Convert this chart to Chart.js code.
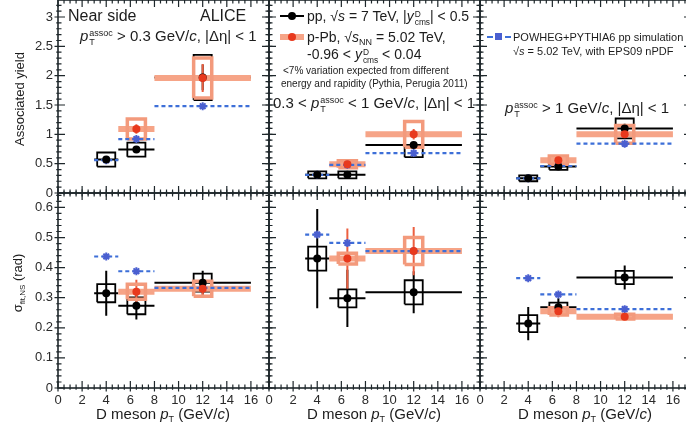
<!DOCTYPE html>
<html>
<head>
<meta charset="utf-8">
<script src="https://cdn.jsdelivr.net/npm/chart.js@4/dist/chart.umd.min.js"></script>
<style>
html, body { margin: 0; padding: 0; background: #fff; overflow: hidden; }
#wrap { position: relative; width: 686px; height: 432px; overflow: hidden; font-family: "Liberation Sans", Arial, sans-serif; color: #1c1c1c; }
#wrap canvas { position: absolute; left: 0; top: 0; }
.t { position: absolute; white-space: nowrap; line-height: 1; }
.ss { display: inline-block; vertical-align: -4px; line-height: 0.95; font-size: 0.6em; margin-left: 1px; }
.ss > span { display: block; }
.rot { position: absolute; white-space: nowrap; line-height: 1; transform: translate(-50%, -50%) rotate(-90deg); }
.ctr { position: absolute; white-space: nowrap; line-height: 1; transform: translateX(-50%); }
.sym { position: absolute; }
</style>
</head>
<body>
<div id="wrap">
  <canvas id="c0" width="700" height="432"></canvas>
  <canvas id="c1" width="700" height="432"></canvas>
  <canvas id="c2" width="700" height="432"></canvas>
  <canvas id="c3" width="700" height="432"></canvas>
  <canvas id="c4" width="700" height="432"></canvas>
  <canvas id="c5" width="700" height="432"></canvas>

  <!-- panel 1 texts -->
  <div class="t" style="left:68px;top:8px;font-size:16px">Near side</div>
  <div class="t" style="left:200px;top:8px;font-size:16px">ALICE</div>
  <div class="t" style="left:80px;top:28px;font-size:15px"><i>p</i><span class="ss"><span>assoc</span><span>T</span></span> &gt; 0.3 GeV/<i>c</i>, |Δη| &lt; 1</div>

  <!-- legend pp / p-Pb -->
  <div class="sym" style="left:280px;top:15px;width:24px;height:2px;background:#000"></div>
  <div class="sym" style="left:288px;top:12px;width:8px;height:8px;border-radius:50%;background:#000"></div>
  <div class="t" style="left:307px;top:9px;font-size:14px">pp, √<i>s</i> = 7 TeV, |<i>y</i><span class="ss"><span>D</span><span>cms</span></span>| &lt; 0.5</div>
  <div class="sym" style="left:280px;top:34px;width:24px;height:6px;background:#f6a487"></div>
  <div class="sym" style="left:288px;top:33px;width:8px;height:8px;border-radius:50%;background:#e8391d"></div>
  <div class="t" style="left:307px;top:30px;font-size:14px">p-Pb, √<i>s</i><sub style="font-size:9px;vertical-align:-3px">NN</sub> = 5.02 TeV,</div>
  <div class="t" style="left:307px;top:47px;font-size:14px">-0.96 &lt; <i>y</i><span class="ss"><span>D</span><span>cms</span></span> &lt; 0.04</div>
  <div class="t" style="left:283px;top:66px;font-size:10px">&lt;7% variation expected from different</div>
  <div class="t" style="left:281px;top:79px;font-size:10px">energy and rapidity (Pythia, Perugia 2011)</div>
  <div class="t" style="left:273px;top:95px;font-size:15px">0.3 &lt; <i>p</i><span class="ss"><span>assoc</span><span>T</span></span> &lt; 1 GeV/<i>c</i>, |Δη| &lt; 1</div>

  <!-- legend POWHEG -->
  <div class="sym" style="left:487px;top:36px;width:24px;height:0;border-top:2px dashed #3d6fd8"></div>
  <div class="sym" style="left:495px;top:33px;width:7px;height:7px;background:#4a5fd0"></div>
  <div class="t" style="left:513px;top:32px;font-size:11px">POWHEG+PYTHIA6 pp simulation</div>
  <div class="t" style="left:513px;top:46px;font-size:11px">√<i>s</i> = 5.02 TeV, with EPS09 nPDF</div>
  <div class="t" style="left:505px;top:100px;font-size:15px"><i>p</i><span class="ss"><span>assoc</span><span>T</span></span> &gt; 1 GeV/<i>c</i>, |Δη| &lt; 1</div>

  <!-- axis titles -->
  <div class="rot" style="left:19px;top:99px;font-size:13px">Associated yield</div>
  <div class="rot" style="left:19px;top:283px;font-size:13px">σ<sub style="font-size:8px;vertical-align:-3px">fit,NS</sub> (rad)</div>
  <div class="ctr" style="left:163px;top:406px;font-size:15px">D meson <i>p</i><sub style="font-size:9px;vertical-align:-3px">T</sub> (GeV/<i>c</i>)</div>
  <div class="ctr" style="left:374px;top:406px;font-size:15px">D meson <i>p</i><sub style="font-size:9px;vertical-align:-3px">T</sub> (GeV/<i>c</i>)</div>
  <div class="ctr" style="left:585px;top:406px;font-size:15px">D meson <i>p</i><sub style="font-size:9px;vertical-align:-3px">T</sub> (GeV/<i>c</i>)</div>
</div>

<script>
// D meson pT bins
const binLo = [3, 5, 8];
const binHi = [5, 8, 16];
const binMid = [4, 6.5, 12];

// associated yield, one row per pT assoc range: >0.3, 0.3-1, >1 GeV/c
const ppYield      = [[0.57, 0.74, 1.97], [0.31, 0.31, 0.82], [0.25, 0.45, 1.10]];
const ppYieldStat  = [[0.03, 0.04, 0.22], [0.02, 0.02, 0.05], [0.01, 0.02, 0.08]];
const ppYieldSyst  = [[0.12, 0.12, 0.385], [0.06, 0.06, 0.21], [0.05, 0.055, 0.17]];
const pPbYield     = [[null, 1.09, 1.96], [null, 0.49, 1.00], [null, 0.56, 1.00]];
const pPbYieldStat = [[null, 0.08, 0.24], [null, 0.03, 0.09], [null, 0.04, 0.06]];
const pPbYieldSyst = [[null, 0.17, 0.34], [null, 0.06, 0.22], [null, 0.07, 0.15]];
const powhegYield  = [[0.56, 0.92, 1.48], [0.31, 0.48, 0.68], [0.25, 0.46, 0.84]];

// near-side width sigma (rad)
const ppSigma      = [[0.315, 0.273, 0.35], [0.43, 0.298, 0.318], [0.214, 0.268, 0.367]];
const ppSigmaStat  = [[0.075, 0.045, 0.04], [0.165, 0.095, 0.07], [0.055, 0.03, 0.04]];
const ppSigmaSyst  = [[0.03, 0.028, 0.03], [0.04, 0.03, 0.04], [0.028, 0.016, 0.022]];
const pPbSigma     = [[null, 0.32, 0.33], [null, 0.43, 0.455], [null, 0.255, 0.237]];
const pPbSigmaStat = [[null, 0.04, 0.03], [null, 0.1, 0.08], [null, 0.02, 0.01]];
const pPbSigmaSyst = [[null, 0.025, 0.025], [null, 0.018, 0.045], [null, 0.012, 0.008]];
const powhegSigma  = [[0.437, 0.388, 0.333], [0.51, 0.482, 0.455], [0.365, 0.311, 0.262]];

const W = 700, H = 432;
const colLeft = [58, 269, 480], colWidth = 211;
const rowTop = [0, 193], rowBottom = [193, 388];
const BOX = 0.75; // half width of syst boxes in GeV/c
const AXIS = '#1e272b';
const FONT = { family: '"Liberation Sans", Arial, sans-serif', size: 13 };

// bin-wide horizontal lines, gaps between bins
function binLines(vals) {
  const out = [];
  vals.forEach((v, i) => {
    if (v == null) return;
    out.push({ x: binLo[i], y: v }, { x: binHi[i], y: v }, { x: binHi[i], y: null });
  });
  return out;
}

function errLines(vals, errs) {
  const out = [];
  vals.forEach((v, i) => {
    if (v == null) return;
    out.push({ x: binMid[i], y: v - errs[i] }, { x: binMid[i], y: v + errs[i] }, { x: binMid[i], y: null });
  });
  return out;
}

function boxLines(vals, errs) {
  const out = [];
  vals.forEach((v, i) => {
    if (v == null) return;
    const c = binMid[i], e = errs[i];
    out.push({ x: c - BOX, y: v - e }, { x: c + BOX, y: v - e }, { x: c + BOX, y: v + e },
             { x: c - BOX, y: v + e }, { x: c - BOX, y: v - e }, { x: c, y: null });
  });
  return out;
}

function markers(vals) {
  return vals.map((v, i) => v == null ? null : { x: binMid[i], y: v }).filter(Boolean);
}

// frame with ROOT-like ticks on all four sides
const frameTicks = {
  id: 'frameTicks',
  afterDraw(chart, args, o) {
    const { ctx, chartArea: a, scales: { x, y } } = chart;
    ctx.save();
    ctx.strokeStyle = AXIS;
    ctx.lineWidth = 1.6;
    ctx.strokeRect(a.left, a.top, a.width, a.height);
    ctx.lineWidth = 1.2;
    ctx.beginPath();
    const nx = Math.round(x.max / o.xMinor);
    for (let i = 0; i <= nx; i++) {
      const px = x.getPixelForValue(i * o.xMinor);
      const L = i % o.xEvery === 0 ? 7 : 3.5;
      ctx.moveTo(px, a.bottom + L * 0.5); ctx.lineTo(px, a.bottom - L);
      ctx.moveTo(px, a.top - L * 0.5); ctx.lineTo(px, a.top + L);
    }
    const ny = Math.floor(y.max / o.yMinor + 1e-6);
    for (let i = 0; i <= ny; i++) {
      const py = y.getPixelForValue(i * o.yMinor);
      const L = i % o.yEvery === 0 ? 7 : 3.5;
      ctx.moveTo(a.left - L * 0.5, py); ctx.lineTo(a.left + L, py);
      ctx.moveTo(a.right + L * 0.5, py); ctx.lineTo(a.right - L, py);
    }
    ctx.stroke();
    ctx.restore();
  }
};

// force the axis box to a fixed size so every chart area lands on its panel
function fitTo(size) {
  return s => {
    if (s.isHorizontal()) s.height = size; else s.width = size;
    s.paddingLeft = s.paddingRight = s.paddingTop = s.paddingBottom = 0;
  };
}

function buildPanel(id, col, row, pp, ppStat, ppSyst, pPb, pPbStat, pPbSyst, powheg) {
  const isTop = row === 0;
  const left = colLeft[col];
  const top = rowTop[row], bottom = rowBottom[row];
  const yAxisW = col === 0 ? left : 0;
  const xAxisH = isTop ? 0 : H - bottom;
  const line = (data, color, width, order, dash) => ({
    data, showLine: true, borderColor: color, borderWidth: width, pointRadius: 0,
    borderDash: dash || [], order, fill: false
  });
  const dots = (data, style, r, color, width, order) => ({
    data, showLine: false, pointStyle: style, pointRadius: r, backgroundColor: color,
    borderColor: color, borderWidth: width, order
  });

  new Chart(document.getElementById(id), {
    type: 'scatter',
    data: {
      datasets: [
        line(boxLines(pp, ppSyst), '#000', 1.8, 9),
        line(binLines(pp), '#000', 2, 8),
        line(errLines(pp, ppStat), '#000', 2, 8),
        line(binLines(pPb), '#f6a487', 6, 7),
        line(boxLines(pPb, pPbSyst), '#f39a7c', 3.5, 6),
        line(errLines(pPb, pPbStat), '#ec5f40', 2, 6),
        line(binLines(powheg), '#3d6fd8', 2.2, 4, [4, 3]),
        dots(markers(powheg), 'star', 4, '#4a5fd0', 2, 3),
        dots(markers(pp), 'circle', 4, '#000', 0, 2),
        dots(markers(pPb), 'circle', 4, '#e8391d', 0, 1)
      ]
    },
    options: {
      responsive: false,
      animation: false,
      events: [],
      layout: {
        autoPadding: false,
        padding: { left: left - yAxisW, right: W - left - colWidth, top: top, bottom: H - bottom - xAxisH }
      },
      plugins: {
        legend: { display: false },
        tooltip: { enabled: false },
        frameTicks: { xMinor: 0.5, xEvery: 4, yMinor: isTop ? 0.1 : 0.02, yEvery: 5 }
      },
      scales: {
        x: {
          type: 'linear', min: 0, max: 17.5,
          afterFit: fitTo(xAxisH),
          grid: { display: false, drawTicks: false },
          border: { display: false },
          ticks: {
            display: !isTop, stepSize: 2, includeBounds: false, autoSkip: false,
            maxRotation: 0, padding: 5, color: '#2a2a2a', font: FONT
          }
        },
        y: {
          type: 'linear', min: 0, max: isTop ? 3.29 : 0.648,
          afterFit: fitTo(yAxisW),
          grid: { display: false, drawTicks: false },
          border: { display: false },
          ticks: {
            display: col === 0, stepSize: isTop ? 0.5 : 0.1, includeBounds: false, autoSkip: false,
            padding: 5, color: '#2a2a2a', font: FONT,
            callback: v => String(+v.toFixed(2))
          }
        }
      }
    },
    plugins: [frameTicks]
  });
}

for (let c = 0; c < 3; c++) {
  buildPanel('c' + c, c, 0, ppYield[c], ppYieldStat[c], ppYieldSyst[c],
             pPbYield[c], pPbYieldStat[c], pPbYieldSyst[c], powhegYield[c]);
  buildPanel('c' + (c + 3), c, 1, ppSigma[c], ppSigmaStat[c], ppSigmaSyst[c],
             pPbSigma[c], pPbSigmaStat[c], pPbSigmaSyst[c], powhegSigma[c]);
}
</script>
</body>
</html>
